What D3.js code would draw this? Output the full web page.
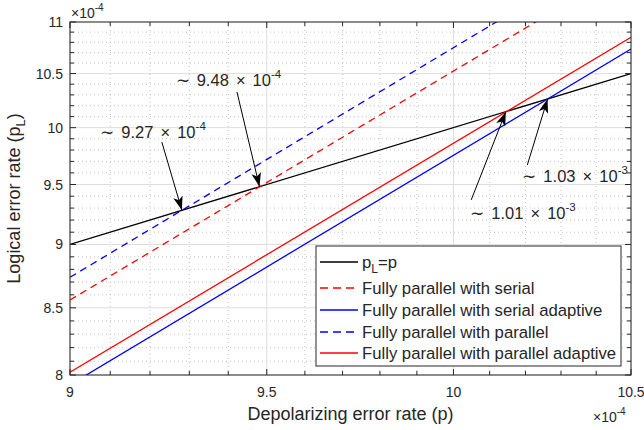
<!DOCTYPE html>
<html>
<head>
<meta charset="utf-8">
<script src="https://cdn.jsdelivr.net/npm/d3@7"></script>
<style>
  body { margin: 0; background: #fff; }
  text { font-family: "Liberation Sans", Arial, sans-serif; fill: #262626; }
</style>
</head>
<body>
<div class="chart"></div>
<script>
var svgWidth = 644;
var svgHeight = 430;

var margin = { top: 22, right: 13, bottom: 55, left: 70 };
var width = svgWidth - margin.left - margin.right;
var height = svgHeight - margin.top - margin.bottom;

// values in units of 1e-4
var pValues = [9, 10.5];
var pLequalsP = [9, 10.5];
var serial = [8.56, 11.58];
var serialAdaptive = [7.93, 10.735];
var parallel = [8.737, 11.83];
var parallelAdaptive = [8.02, 10.85];

var xMajorTicks = [9, 9.5, 10, 10.5];
var yMajorTicks = [8, 8.5, 9, 9.5, 10, 10.5, 11];
var xMinorTicks = [9.1, 9.2, 9.3, 9.4, 9.6, 9.7, 9.8, 9.9, 10.1, 10.2, 10.3, 10.4];
var yMinorTicks = [8.1, 8.2, 8.3, 8.4, 8.6, 8.7, 8.8, 8.9, 9.1, 9.2, 9.3, 9.4,
                   9.6, 9.7, 9.8, 9.9, 10.1, 10.2, 10.3, 10.4, 10.6, 10.7, 10.8, 10.9];

// annotations: text value, exponent, text anchor point, arrow tail, arrow tip (data units)
var annoLabels = ["9.27", "9.48", "1.01", "1.03"];
var annoExp = ["-4", "-4", "-3", "-3"];
var annoTextX = [9.075, 9.265, 10.046, 10.191];
var annoTextY = [9.907, 10.383, 9.209, 9.522];
var annoTailX = [9.23, 9.4225, 10.049, 10.205];
var annoTailY = [9.871, 10.327, 9.369, 9.668];
var annoTipX = [9.281, 9.481, 10.145, 10.262];
var annoTipY = [9.281, 9.481, 10.145, 10.262];

var series = [
  { name: "pL=p", values: pLequalsP, color: "#000000", dash: null },
  { name: "Fully parallel with serial", values: serial, color: "#ff0000", dash: "7,5" },
  { name: "Fully parallel with serial adaptive", values: serialAdaptive, color: "#0000ff", dash: null },
  { name: "Fully parallel with parallel", values: parallel, color: "#0000ff", dash: "7,5" },
  { name: "Fully parallel with parallel adaptive", values: parallelAdaptive, color: "#ff0000", dash: null }
];

var svg = d3.select(".chart")
  .append("svg")
  .attr("width", svgWidth)
  .attr("height", svgHeight);

var chartGroup = svg.append("g")
  .attr("transform", `translate(${margin.left}, ${margin.top})`);

var xScale = d3.scaleLog().domain([9, 10.5]).range([0, width]);
var yScale = d3.scaleLog().domain([8, 11]).range([height, 0]);

// grid
var grid = chartGroup.append("g");
grid.selectAll(".xminor").data(xMinorTicks).enter().append("line")
  .attr("x1", d => xScale(d)).attr("x2", d => xScale(d))
  .attr("y1", 0).attr("y2", height)
  .attr("stroke", "#c4c4c4").attr("stroke-width", 1).attr("stroke-dasharray", "1,3");
grid.selectAll(".yminor").data(yMinorTicks).enter().append("line")
  .attr("x1", 0).attr("x2", width)
  .attr("y1", d => yScale(d)).attr("y2", d => yScale(d))
  .attr("stroke", "#c4c4c4").attr("stroke-width", 1).attr("stroke-dasharray", "1,3");
grid.selectAll(".xmajor").data(xMajorTicks).enter().append("line")
  .attr("x1", d => xScale(d)).attr("x2", d => xScale(d))
  .attr("y1", 0).attr("y2", height)
  .attr("stroke", "#dedede").attr("stroke-width", 1);
grid.selectAll(".ymajor").data(yMajorTicks).enter().append("line")
  .attr("x1", 0).attr("x2", width)
  .attr("y1", d => yScale(d)).attr("y2", d => yScale(d))
  .attr("stroke", "#dedede").attr("stroke-width", 1);

// clip
svg.append("defs").append("clipPath").attr("id", "clip")
  .append("rect").attr("width", width).attr("height", height);

var marker = svg.select("defs").append("marker")
  .attr("id", "arrow")
  .attr("markerUnits", "userSpaceOnUse")
  .attr("viewBox", "0 -5 14 10")
  .attr("refX", 14).attr("refY", 0)
  .attr("markerWidth", 14).attr("markerHeight", 10)
  .attr("orient", "auto");
marker.append("path").attr("d", "M0,-4.8L14,0L0,4.8L3.5,0Z").attr("fill", "#000");

var line = d3.line()
  .x((d, i) => xScale(pValues[i]))
  .y(d => yScale(d));

chartGroup.append("g").attr("clip-path", "url(#clip)")
  .selectAll("path").data(series).enter().append("path")
  .attr("d", d => line(d.values))
  .attr("fill", "none")
  .attr("stroke", d => d.color)
  .attr("stroke-width", 1.3)
  .attr("stroke-dasharray", d => d.dash);

// axes (ticks inward on all four sides)
var axisColor = "#262626";
function tickLen(major) { return major ? 6 : 4; }
var ax = chartGroup.append("g");
var xAll = xMajorTicks.map(d => [d, true]).concat(xMinorTicks.map(d => [d, false]));
var yAll = yMajorTicks.map(d => [d, true]).concat(yMinorTicks.map(d => [d, false]));
ax.selectAll(".xb").data(xAll).enter().append("line")
  .attr("x1", d => xScale(d[0])).attr("x2", d => xScale(d[0]))
  .attr("y1", height).attr("y2", d => height - tickLen(d[1]))
  .attr("stroke", axisColor);
ax.selectAll(".xt").data(xAll).enter().append("line")
  .attr("x1", d => xScale(d[0])).attr("x2", d => xScale(d[0]))
  .attr("y1", 0).attr("y2", d => tickLen(d[1]))
  .attr("stroke", axisColor);
ax.selectAll(".yl").data(yAll).enter().append("line")
  .attr("y1", d => yScale(d[0])).attr("y2", d => yScale(d[0]))
  .attr("x1", 0).attr("x2", d => tickLen(d[1]))
  .attr("stroke", axisColor);
ax.selectAll(".yr").data(yAll).enter().append("line")
  .attr("y1", d => yScale(d[0])).attr("y2", d => yScale(d[0]))
  .attr("x1", width).attr("x2", d => width - tickLen(d[1]))
  .attr("stroke", axisColor);
ax.append("rect").attr("width", width).attr("height", height)
  .attr("fill", "none").attr("stroke", axisColor).attr("stroke-width", 1);

ax.selectAll(".xlab").data(xMajorTicks).enter().append("text")
  .attr("x", d => xScale(d)).attr("y", height + 22)
  .attr("text-anchor", "middle").attr("font-size", 14)
  .text(d => d);
ax.selectAll(".ylab").data(yMajorTicks).enter().append("text")
  .attr("x", -7).attr("y", d => yScale(d) + 5)
  .attr("text-anchor", "end").attr("font-size", 14)
  .text(d => d);

// exponent labels
function expLabel(g, x, y, exp) {
  var t = g.append("text").attr("x", x).attr("y", y).attr("font-size", 14);
  t.append("tspan").text("\u00d710");
  t.append("tspan").attr("font-size", 10).attr("dy", -7).text(exp);
}
expLabel(chartGroup, 1, -4, "-4");
expLabel(chartGroup, width - 38, height + 47, "-4");

// axis titles
chartGroup.append("text")
  .attr("x", width / 2).attr("y", height + 45)
  .attr("text-anchor", "middle").attr("font-size", 18)
  .text("Depolarizing error rate (p)");

var yTitle = chartGroup.append("text")
  .attr("transform", `translate(${20 - margin.left}, ${height / 2}) rotate(-90)`)
  .attr("text-anchor", "middle").attr("font-size", 18);
yTitle.append("tspan").text("Logical error rate (p");
yTitle.append("tspan").attr("font-size", 13).attr("dy", 5).text("L");
yTitle.append("tspan").attr("dy", -5).text(")");

// annotations
var annoGroup = chartGroup.append("g");
annoLabels.forEach(function(lab, i) {
  annoGroup.append("line")
    .attr("x1", xScale(annoTailX[i])).attr("y1", yScale(annoTailY[i]))
    .attr("x2", xScale(annoTipX[i])).attr("y2", yScale(annoTipY[i]))
    .attr("stroke", "#000").attr("stroke-width", 1)
    .attr("marker-end", "url(#arrow)");
  var t = annoGroup.append("text")
    .attr("x", xScale(annoTextX[i])).attr("y", yScale(annoTextY[i]))
    .attr("font-size", 16.5).attr("fill", "#000")
    .attr("word-spacing", 2.5)
    .style("white-space", "pre");
  t.append("tspan").text("\u223c " + lab + " \u00d7 10");
  t.append("tspan").attr("font-size", 11.5).attr("dy", -8).text(annoExp[i]);
});

// legend
var legend = chartGroup.append("g")
  .attr("transform", `translate(${316 - margin.left}, ${246 - margin.top})`);
legend.append("rect")
  .attr("width", 305).attr("height", 120)
  .attr("fill", "#fff").attr("stroke", axisColor).attr("stroke-width", 1);
var rowY = [16, 42, 64, 86, 107];
series.forEach(function(s, i) {
  legend.append("line")
    .attr("x1", 4).attr("x2", 42)
    .attr("y1", rowY[i]).attr("y2", rowY[i])
    .attr("stroke", s.color).attr("stroke-width", 1.3)
    .attr("stroke-dasharray", s.dash ? "8,5" : null);
  var t = legend.append("text")
    .attr("x", 46).attr("y", rowY[i] + 6)
    .attr("font-size", 16.7).attr("fill", "#000");
  if (i === 0) {
    t.append("tspan").text("p");
    t.append("tspan").attr("font-size", 12).attr("dy", 5).text("L");
    t.append("tspan").attr("dy", -5).text("=p");
  } else {
    t.text(s.name);
  }
});
</script>
</body>
</html>
